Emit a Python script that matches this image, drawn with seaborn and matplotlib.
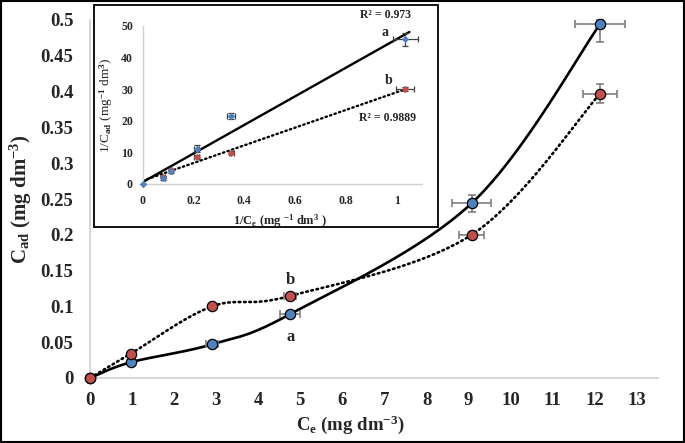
import numpy as np
import seaborn as sns
import matplotlib
matplotlib.use("Agg")
import matplotlib.pyplot as plt
from matplotlib.patches import Rectangle

# main isotherm data
ce_a = [0, 0.97, 2.9, 4.75, 9.07, 12.12]
cad_a = [0, 0.022, 0.047, 0.089, 0.244, 0.494]
ce_a_err = [0, 0.03, 0.15, 0.24, 0.46, 0.6]
cad_a_err_lo = [0, 0, 0.002, 0.004, 0.012, 0.025]
cad_a_err_hi = [0, 0, 0.002, 0.004, 0.012, 0.006]

ce_b = [0, 0.97, 2.9, 4.75, 9.07, 12.12]
cad_b = [0, 0.034, 0.1, 0.1145, 0.2, 0.397]
ce_b_err = [0, 0.03, 0.05, 0.15, 0.3, 0.41]
cad_b_err = [0, 0, 0.002, 0.003, 0.004, 0.013]

# inset (linearised) data
inv_ce_a = [0, 0.081, 0.111, 0.212, 0.348, 1.034]
inv_cad_a = [0, 1.9, 4.0, 11.2, 21.5, 45.8]
inv_ce_a_err = [0, 0.005, 0.005, 0.01, 0.016, 0.05]
inv_cad_a_err = [0, 0.5, 0.5, 1.0, 1.0, 2.1]

inv_ce_b = [0.081, 0.111, 0.212, 0.348, 1.034]
inv_cad_b = [2.3, 4.4, 8.6, 9.9, 30.0]
inv_ce_b_err = [0.005, 0.005, 0.01, 0.01, 0.036]
inv_cad_b_err = [0.3, 0.3, 0.5, 0.5, 0.6]

x_ticks = list(range(0, 14))
y_ticks = [0, 0.05, 0.1, 0.15, 0.2, 0.25, 0.3, 0.35, 0.4, 0.45, 0.5]
y_ticklabels = ["0", "0.05", "0.1", "0.15", "0.2", "0.25", "0.3", "0.35", "0.4", "0.45", "0.5"]
inset_x_ticks = [0, 0.2, 0.4, 0.6, 0.8, 1]
inset_x_ticklabels = ["0", "0.2", "0.4", "0.6", "0.8", "1"]
inset_y_ticks = [0, 10, 20, 30, 40, 50]

BLUE = "#4f81bd"
RED = "#c0504d"
ERR = "#7f7f7f"
AXIS = "#d0d0d0"
DOTS = (0, (0.6, 1.4))


def smooth(x, y, n=40):
    # Excel-like smoothed line (Catmull-Rom through the points)
    pts = np.column_stack([x, y]).astype(float)
    out = []
    for i in range(len(pts) - 1):
        p0 = pts[i - 1] if i > 0 else pts[i]
        p1, p2 = pts[i], pts[i + 1]
        p3 = pts[i + 2] if i + 2 < len(pts) else pts[i + 1]
        c1 = p1 + (p2 - p0) / 6
        c2 = p2 - (p3 - p1) / 6
        t = np.linspace(0, 1, n)[:, None]
        seg = (1 - t) ** 3 * p1 + 3 * (1 - t) ** 2 * t * c1 + 3 * (1 - t) * t ** 2 * c2 + t ** 3 * p2
        out.append(seg if i == 0 else seg[1:])
    s = np.vstack(out)
    return s[:, 0], s[:, 1]


sns.set_style("white")
plt.rcParams["font.family"] = ["Liberation Serif", "DejaVu Serif"]
plt.rcParams["font.weight"] = "bold"
plt.rcParams["mathtext.fontset"] = "custom"
plt.rcParams["mathtext.rm"] = "Liberation Serif:bold"
plt.rcParams["mathtext.it"] = "Liberation Serif:bold"
plt.rcParams["mathtext.bf"] = "Liberation Serif:bold"
plt.rcParams["mathtext.default"] = "rm"

fig = plt.figure(figsize=(6.85, 4.43), dpi=100)
ax = fig.add_axes([90 / 685, 1 - 378 / 443, 568 / 685, 358 / 443])

# main curves
xs, ys = smooth(ce_a, cad_a)
ax.plot(xs, ys, color="black", lw=1.9, solid_capstyle="round", zorder=2)
xs, ys = smooth(ce_b, cad_b)
ax.plot(xs, ys, color="black", lw=1.9, linestyle=DOTS, dash_capstyle="round", zorder=2)

ax.errorbar(ce_a, cad_a, xerr=ce_a_err, yerr=[cad_a_err_lo, cad_a_err_hi], fmt="none",
            ecolor=ERR, elinewidth=1.2, capsize=3, capthick=1.2, zorder=3, clip_on=False)
ax.errorbar(ce_b, cad_b, xerr=ce_b_err, yerr=cad_b_err, fmt="none",
            ecolor=ERR, elinewidth=1.2, capsize=3, capthick=1.2, zorder=3, clip_on=False)
sns.scatterplot(x=ce_a, y=cad_a, ax=ax, color=BLUE, edgecolor="black", linewidth=0.9,
                s=55, zorder=4, clip_on=False)
sns.scatterplot(x=ce_b, y=cad_b, ax=ax, color=RED, edgecolor="black", linewidth=0.9,
                s=55, zorder=5, clip_on=False)

ax.text(4.77, 0.137, "b", ha="center", va="center", fontsize=12, fontweight="bold")
ax.text(4.77, 0.057, "a", ha="center", va="center", fontsize=12, fontweight="bold")

ax.set_xlim(0, 13.5)
ax.set_ylim(0, 0.5)
ax.set_xticks(x_ticks)
ax.set_yticks(y_ticks)
ax.set_yticklabels(y_ticklabels)
ax.tick_params(length=0, labelsize=13.5)
ax.tick_params(axis="x", pad=10)
ax.tick_params(axis="y", pad=12)
for lab in ax.get_xticklabels() + ax.get_yticklabels():
    lab.set_fontweight("bold")
for side in ["top", "right"]:
    ax.spines[side].set_visible(False)
for side in ["left", "bottom"]:
    ax.spines[side].set_color(AXIS)
    ax.spines[side].set_linewidth(1.2)
ax.set_xlabel("C$_{e}$ (mg dm$^{-3}$)", fontsize=13.5, fontweight="bold")
ax.xaxis.set_label_coords(0.458, -0.1)
ax.set_ylabel("C$_{ad}$ (mg dm$^{-3}$)", fontsize=15, fontweight="bold")
ax.yaxis.set_label_coords(-0.098, 0.5)

# inset frame
frame = Rectangle((94 / 685, 1 - 227 / 443), 344 / 685, 222 / 443, transform=fig.transFigure,
                  facecolor="white", edgecolor="black", lw=1.3, zorder=5)
fig.patches.append(frame)

ins = fig.add_axes([142.7 / 685, 1 - 184 / 443, 279.4 / 685, 158 / 443])
ins.set_zorder(10)
ins.patch.set_alpha(0)

# linear trend lines
line_x = np.array([0, 1.05])
ka, ba = np.polyfit(inv_ce_a, inv_cad_a, 1)
kb, bb = np.polyfit(inv_ce_b, inv_cad_b, 1)
sns.lineplot(x=line_x, y=ka * line_x + ba, ax=ins, color="black", lw=1.7)
sns.lineplot(x=line_x, y=kb * line_x + bb, ax=ins, color="black", lw=1.7, linestyle=DOTS,
             dash_capstyle="round")

ins.errorbar(inv_ce_a, inv_cad_a, xerr=inv_ce_a_err, yerr=inv_cad_a_err, fmt="none",
             ecolor="#404040", elinewidth=0.9, capsize=2.5, capthick=0.9, clip_on=False)
ins.errorbar(inv_ce_b, inv_cad_b, xerr=inv_ce_b_err, yerr=inv_cad_b_err, fmt="none",
             ecolor="#404040", elinewidth=0.9, capsize=2.5, capthick=0.9, clip_on=False)
sns.scatterplot(x=inv_ce_b, y=inv_cad_b, ax=ins, color=RED, marker="D", s=14,
                linewidth=0, zorder=4, clip_on=False)
sns.scatterplot(x=inv_ce_a, y=inv_cad_a, ax=ins, color=BLUE, marker="D", s=14,
                linewidth=0, zorder=4, clip_on=False)

ins.set_xlim(0, 1.1)
ins.set_ylim(0, 50)
ins.set_xticks(inset_x_ticks)
ins.set_xticklabels(inset_x_ticklabels)
ins.set_yticks(inset_y_ticks)
ins.tick_params(length=0, labelsize=8.5)
ins.tick_params(axis="x", pad=8)
ins.tick_params(axis="y", pad=7)
for lab in ins.get_xticklabels() + ins.get_yticklabels():
    lab.set_fontweight("bold")
for side in ["top", "right"]:
    ins.spines[side].set_visible(False)
for side in ["left", "bottom"]:
    ins.spines[side].set_color(AXIS)
    ins.spines[side].set_linewidth(1.0)
ins.set_xlabel("1/C$_{e}$ (mg $^{-1}$ dm$^{3}$ )", fontsize=9, fontweight="bold")
ins.xaxis.set_label_coords(0.49, -0.18)
ins.set_ylabel("1/C$_{ad}$ (mg$^{-1}$ dm$^{3}$)", fontsize=9.5)
ins.yaxis.set_label_coords(-0.1, 0.5)

ins.text(0.855, 53.5, "R² = 0.973", fontsize=8.5, fontweight="bold", va="center")
ins.text(0.955, 48.1, "a", fontsize=10, fontweight="bold", ha="center", va="center")
ins.text(0.97, 32.9, "b", fontsize=10, fontweight="bold", ha="center", va="center")
ins.text(0.852, 20.9, "R² = 0.9889", fontsize=8.5, fontweight="bold", va="center")

# outer border
border = Rectangle((0.002, 0.002), 0.996, 0.996, transform=fig.transFigure,
                   facecolor="none", edgecolor="black", lw=1.5, zorder=20)
fig.patches.append(border)

fig.savefig("out.png", dpi=100)
